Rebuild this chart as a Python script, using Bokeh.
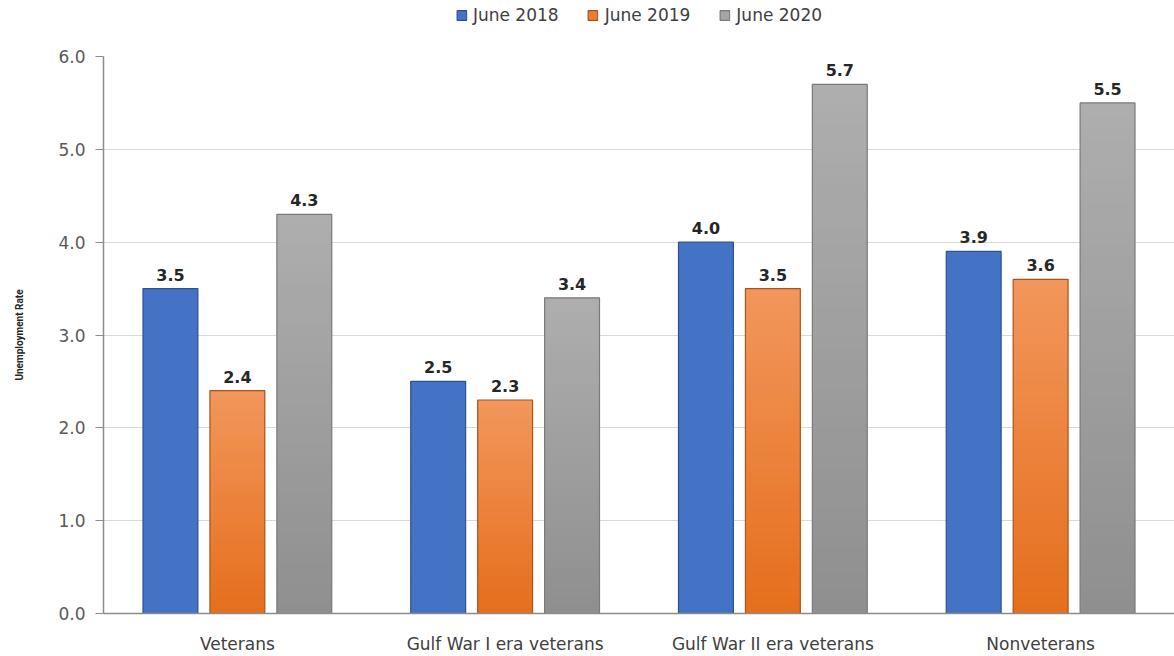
from bokeh.plotting import figure
from bokeh.models import ColumnDataSource, FactorRange, Legend, LegendItem, SingleIntervalTicker, NumeralTickFormatter
from bokeh.transform import dodge
from bokeh.layouts import column
from bokeh.core.properties import value
from bokeh.embed import file_html
from bokeh.resources import INLINE

categories = ["Veterans", "Gulf War I era veterans", "Gulf War II era veterans", "Nonveterans"]
series_names = ["June 2018", "June 2019", "June 2020"]
june_2018 = [3.5, 2.5, 4.0, 3.9]
june_2019 = [2.4, 2.3, 3.5, 3.6]
june_2020 = [4.3, 3.4, 5.7, 5.5]

series_values = [june_2018, june_2019, june_2020]
offsets = [-0.25, 0.0, 0.25]
top_colors = ["#4472C4", "#F2975C", "#AEAEAE"]
bottom_colors = ["#4472C4", "#E56E1C", "#8F8F8F"]
line_colors = ["#2F528F", "#A9541B", "#7A7A7A"]
legend_fill = ["#4472C4", "#ED7D31", "#A5A5A5"]
BAR_W = 0.205
N_SLICES = 40

p = figure(x_range=FactorRange(*categories, range_padding=0), y_range=(0, 6.0),
           width=1174, height=616, output_backend="svg", toolbar_location=None,
           min_border_left=103, min_border_right=0, min_border_top=16, min_border_bottom=40)
p.outline_line_color = None
p.background_fill_color = "white"

lf = figure(x_range=(0, 1), y_range=(0, 1), width=1174, height=40, output_backend="svg",
            toolbar_location=None, min_border_left=0, min_border_right=0,
            min_border_top=0, min_border_bottom=0)
lf.axis.visible = False
lf.grid.grid_line_color = None
lf.outline_line_color = None


def hex_to_rgb(h):
    return tuple(int(h[i:i + 2], 16) for i in (1, 3, 5))


def mix(c1, c2, t):
    a, b = hex_to_rgb(c1), hex_to_rgb(c2)
    return "#%02x%02x%02x" % tuple(round(a[k] + (b[k] - a[k]) * t) for k in range(3))


legend_items = []
for si, (name, vals) in enumerate(zip(series_names, series_values)):
    xs, bots, tops, cols = [], [], [], []
    for cat, v in zip(categories, vals):
        for i in range(N_SLICES):
            xs.append(cat)
            bots.append(v * i / N_SLICES)
            tops.append(min(v, v * (i + 1) / N_SLICES + 0.03))
            cols.append(mix(bottom_colors[si], top_colors[si], (i + 0.5) / N_SLICES))
    src = ColumnDataSource(dict(x=xs, bottom=bots, top=tops, color=cols))
    p.vbar(x=dodge("x", offsets[si], range=p.x_range), bottom="bottom", top="top", width=BAR_W,
           fill_color="color", line_color=None, source=src)
    osrc = ColumnDataSource(dict(x=categories, top=vals, label=["%.1f" % v for v in vals]))
    p.vbar(x=dodge("x", offsets[si], range=p.x_range), top="top", bottom=0, width=BAR_W,
           fill_color=legend_fill[si], fill_alpha=0, line_color=line_colors[si], line_width=1.2,
           source=osrc)
    p.text(x=dodge("x", offsets[si], range=p.x_range), y="top", text="label", source=osrc,
           text_align="center", text_baseline="bottom", y_offset=-8,
           text_font=value("DejaVu Sans"), text_font_style="bold", text_font_size="16px",
           text_color="#262626")
    lr = lf.quad(left=[-5], right=[-4], bottom=[-5], top=[-4],
                 fill_color=legend_fill[si], line_color=line_colors[si], line_width=1.2)
    legend_items.append(LegendItem(label=name, renderers=[lr]))

legend = Legend(items=legend_items, orientation="horizontal", location="top_center",
                label_text_font="DejaVu Sans", label_text_font_size="17px",
                label_text_color="#404040", glyph_width=12, glyph_height=12,
                spacing=28, label_standoff=6, border_line_color=None,
                background_fill_alpha=0, padding=0, margin=5)
lf.add_layout(legend)

p.yaxis.ticker = SingleIntervalTicker(interval=1.0)
p.yaxis.formatter = NumeralTickFormatter(format="0.0")
p.yaxis.axis_label = "Unemployment Rate"
p.yaxis.axis_label_text_font = "Roboto"
p.yaxis.axis_label_text_font_style = "bold"
p.yaxis.axis_label_text_font_size = "10px"
p.yaxis.axis_label_text_color = "#262626"
p.yaxis.axis_label_standoff = 30
p.yaxis.major_label_text_font = "DejaVu Sans"
p.yaxis.major_label_text_font_size = "17px"
p.yaxis.major_label_text_color = "#595959"
p.yaxis.major_label_standoff = 10
p.yaxis.axis_line_color = "#8C8C8C"
p.yaxis.axis_line_width = 1.5
p.yaxis.major_tick_line_color = "#8C8C8C"
p.yaxis.major_tick_out = 8
p.yaxis.major_tick_in = 0
p.yaxis.minor_tick_line_color = None

p.xaxis.major_label_text_font = "DejaVu Sans"
p.xaxis.major_label_text_font_size = "17px"
p.xaxis.major_label_text_color = "#404040"
p.xaxis.major_label_standoff = 14
p.xaxis.axis_line_color = "#8C8C8C"
p.xaxis.axis_line_width = 1.5
p.xaxis.major_tick_line_color = None
p.xaxis.minor_tick_line_color = None

p.xgrid.grid_line_color = None
p.ygrid.grid_line_color = "#D9D9D9"
p.ygrid.grid_line_width = 1

layout = column(lf, p, spacing=0)
open("out.html", "w").write(file_html(layout, INLINE))
